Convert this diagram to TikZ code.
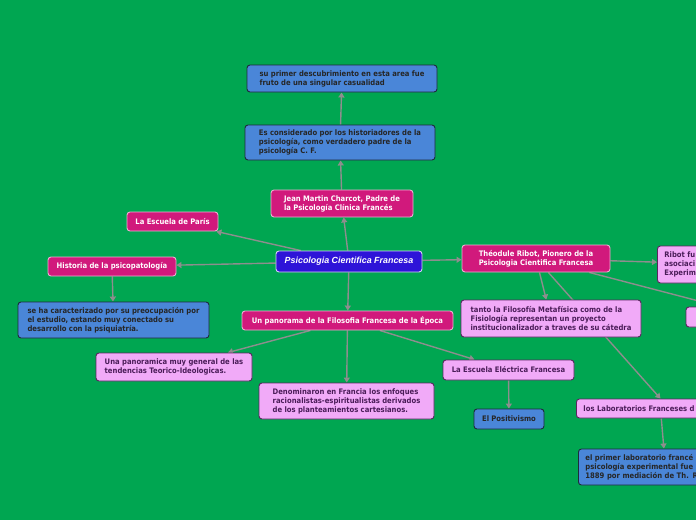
\documentclass[tikz,border=0pt]{standalone}
\usepackage{fontspec}
\usepackage{xcolor}
\usepackage{tikz}
\usetikzlibrary{arrows.meta, positioning}
\newfontfamily\mapfont{DejaVu Sans}[FakeStretch=0.9]
\newfontfamily\rootfont{Liberation Sans}
\pgfdeclarelayer{bg}
\pgfsetlayers{bg,main}

\definecolor{mapgreen}{HTML}{00A651}
\definecolor{topicpink}{HTML}{D1197C}
\definecolor{notepink}{HTML}{F1AAF8}
\definecolor{noteline}{HTML}{5A2660}
\definecolor{notetext}{HTML}{4A1C58}
\definecolor{factblue}{HTML}{4A86D8}
\definecolor{factline}{HTML}{1E2B3C}
\definecolor{rootblue}{HTML}{2E14D8}
\definecolor{linkgray}{HTML}{8E8E8E}

\begin{document}
\begin{tikzpicture}[x=1pt, y=-1pt]
\tikzstyle{box} = [rectangle, rounded corners=3pt, line width=0.9pt, align=left,
    inner xsep=7pt, inner ysep=2pt, font=\fontsize{7.6}{9}\selectfont\mapfont\bfseries]
\tikzstyle{topic} = [box, draw=topicpink!35!white, fill=topicpink, text=white]
\tikzstyle{note} = [box, draw=noteline, fill=notepink, text=notetext]
\tikzstyle{fact} = [box, draw=factline, fill=factblue, text=black!85]
\tikzstyle{root} = [box, draw=white!80!rootblue, fill=rootblue, text=white,
    align=center, font=\fontsize{8.9}{10}\selectfont\rootfont\bfseries\itshape]
\tikzstyle{arrow} = [draw=linkgray, line width=1.4pt, -{Triangle[length=5pt, width=6pt]}]

\useasboundingbox (0,0) rectangle (696,520);
\clip (0,0) rectangle (696,520);

% Nodes
\node [root, minimum width=146pt, minimum height=21pt] (psico) at (349,261.5) {Psicologia Cientifica Francesa};

\node [topic, minimum width=142pt, minimum height=27pt] (charcot) at (342,203.5) {Jean Martin Charcot, Padre de\\la Psicología Clínica Francés};
\node [fact, minimum width=190pt, minimum height=35pt] (padre) at (340,142.5) {Es considerado por los historiadores de la\\psicología, como verdadero padre de la\\psicología C. F.};
\node [fact, minimum width=190pt, minimum height=27pt] (casual) at (342,78.5) {su primer descubrimiento en esta area fue\\fruto de una singular casualidad};

\node [topic, minimum width=91pt, minimum height=19pt] (paris) at (172.5,221.5) {La Escuela de París};
\node [topic, minimum width=128pt, minimum height=19pt] (historia) at (112,266.5) {Historia de la psicopatología};
\node [fact, minimum width=191pt, minimum height=36pt] (psiquiatria) at (113.5,320) {se ha caracterizado por su preocupación por\\el estudio, estando muy conectado su\\desarrollo con la psiquiatría.};

\node [topic, minimum width=148pt, minimum height=27pt] (ribot) at (536,258.5) {Théodule Ribot, Pionero de la\\Psicologia Cientifica Francesa};
\node [note, anchor=west, text width=140pt, minimum height=37pt] (ribotfue) at (657,264.5) {Ribot fu\\asociaci\\Experim};
\node [note, minimum width=148pt, minimum height=20pt] (ribotside) at (760,317) {};
\node [note, minimum width=180pt, minimum height=37pt] (catedra) at (551,318.5) {tanto la Filosofía Metafísica como de la\\Fisiología representan un proyecto\\institucionalizador a traves de su cátedra};
\node [note, anchor=west, text width=154pt, minimum height=19pt] (labs) at (576,408.5) {los Laboratorios Franceses d};
\node [fact, anchor=west, text width=160pt, minimum height=36pt] (primer) at (578,467) {el primer laboratorio francé\\psicología experimental fue\\1889 por mediación de Th. R};

\node [topic, minimum width=211pt, minimum height=19pt] (panorama) at (347.5,320.5) {Un panorama de la Filosofia Francesa de la Época};
\node [note, minimum width=156pt, minimum height=28pt] (tendencias) at (174,367) {Una panoramica muy general de las\\tendencias Teorico-Ideologicas.};
\node [note, minimum width=175pt, minimum height=36pt] (cartesianos) at (346.5,401) {Denominaron en Francia los enfoques\\racionalistas-espiritualistas derivados\\de los planteamientos cartesianos.};
\node [note, minimum width=131pt, minimum height=20pt] (electrica) at (508.5,370) {La Escuela Eléctrica Francesa};
\node [fact, minimum width=70pt, minimum height=20pt] (positivismo) at (509,419) {El Positivismo};

% Arrows
\begin{pgfonlayer}{bg}
\fill[mapgreen] (0,0) rectangle (696,520);
\draw [arrow] (psico) -- (charcot);
\draw [arrow] (charcot) -- (padre);
\draw [arrow] (padre) -- (casual);
\draw [arrow] (psico) -- (paris);
\draw [arrow] (psico) -- (historia);
\draw [arrow] (historia) -- (psiquiatria);
\draw [arrow] (psico) -- (ribot);
\draw [arrow] (psico) -- (panorama);
\draw [arrow] (ribot) -- (ribotfue);
\draw [arrow] (ribot) -- (ribotside);
\draw [arrow] (ribot) -- (catedra);
\draw [arrow] (ribot) -- (labs.north);
\draw [arrow] (labs) -- (primer);
\draw [arrow] (panorama) -- (tendencias);
\draw [arrow] (panorama) -- (cartesianos);
\draw [arrow] (panorama) -- (electrica);
\draw [arrow] (electrica) -- (positivismo);
\end{pgfonlayer}
\end{tikzpicture}
\end{document}
